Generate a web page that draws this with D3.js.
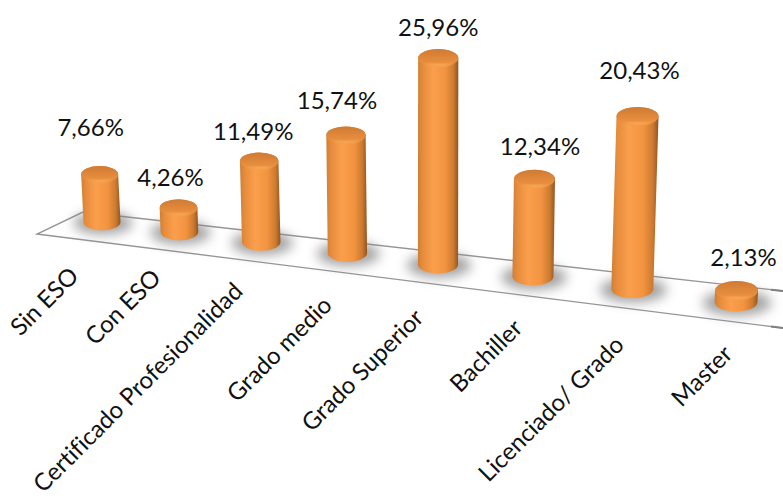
<!DOCTYPE html>
<html lang="es">
<head>
<meta charset="utf-8">
<script src="https://cdn.jsdelivr.net/npm/d3@7"></script>
<style>
  html, body { margin: 0; padding: 0; background: #fff; }
  svg { display: block; }
  text { font-family: Lato, "Open Sans", sans-serif; fill: #111; }
</style>
</head>
<body>
<svg id="chart" width="783" height="501"></svg>
<script>
// Education level shares
const categories = ["Sin ESO", "Con ESO", "Certificado Profesionalidad", "Grado medio",
                    "Grado Superior", "Bachiller", "Licenciado/ Grado", "Master"];
const shares = [7.66, 4.26, 11.49, 15.74, 25.96, 12.34, 20.43, 2.13];

// Hand placement of the value labels, relative to each cylinder's top
const labelLift = [38, 21, 21, 25, 21, 23, 36, 23];
const labelShift = [-9, -8, -6, -9, 0, 5.5, 2, 7];
// Hand placement of the slanted category labels, relative to each base
const tickDrop = [47, 39, 42, 45, 46, 44, 48, 44];
const tickShift = [-22, -17, -17, -14, -13, -9, -7, -2];

const fmt = v => v.toFixed(2).replace(".", ",") + "%";

const svg = d3.select("#chart");
const defs = svg.append("defs");

function gradient(id, x2, y2, stops) {
  const g = defs.append("linearGradient").attr("id", id)
    .attr("x1", 0).attr("y1", 0).attr("x2", x2).attr("y2", y2);
  g.selectAll("stop").data(stops).join("stop")
    .attr("offset", d => d[0]).attr("stop-color", d => d[1]);
}
gradient("body", 1, 0, [[0, "#d07f36"], [0.12, "#e68c3c"], [0.38, "#fb9f4d"], [0.68, "#f2933f"], [0.88, "#cc7a30"], [1, "#8f5522"]]);
gradient("cap", 0, 1, [[0, "#cf7b34"], [0.6, "#e38a3c"], [1, "#f09541"]]);
defs.append("filter").attr("id", "soft")
  .attr("x", "-50%").attr("y", "-100%").attr("width", "200%").attr("height", "300%")
  .append("feGaussianBlur").attr("stdDeviation", 6);
defs.append("filter").attr("id", "glint")
  .attr("x", "-10%").attr("y", "-60%").attr("width", "120%").attr("height", "220%")
  .append("feGaussianBlur").attr("stdDeviation", 0.8);

// Receding axis: category spacing widens towards the viewer
const depth = 17.17;
const x = d3.scalePow().exponent(2).domain([depth, depth + categories.length - 1]).range([102, 736]);
// Pixels per percentage point rise as the bars come closer
const gain = d3.scaleLinear().domain([102, 736]).range([7.25, 9.15]);
// Cylinder height in pixels; the value zero lies just below the floor plane
const height = (v, bx) => d3.scaleLinear().domain([0, 1]).range([-8, gain(bx) - 8])(v);
// Floor edges, expressed as functions of the horizontal position
const frontEdge = d3.scaleLinear().domain([37, 783]).range([234, 328]);
const backEdge = d3.scaleLinear().domain([83, 783]).range([212, 291]);
// Base centre line along the floor
const floorY = d3.scaleLinear().domain([102, 736]).range([222, 302]);
// Radii grow with proximity
const radius = d3.scaleLinear().domain([102, 736]).range([18.5, 21.5]);
const ryScale = d3.scaleLinear().domain([102, 736]).range([8.5, 9.5]);
// Verticals converge on a point above the middle of the floor
const lean = (bx, h) => (bx - 430) * 1.5e-4 * h;

// Floor outline, with the heavier ends where the plane leaves the frame
const floorLine = d3.line();
svg.append("path")
  .attr("d", floorLine([[783, backEdge(783)], [83, backEdge(83)], [37, frontEdge(37)], [783, frontEdge(783)]]))
  .attr("fill", "none").attr("stroke", "#969696").attr("stroke-width", 1.4);
svg.append("g").selectAll("path").data([backEdge, frontEdge]).join("path")
  .attr("d", edge => floorLine([[771, edge(771)], [783, edge(783)]]))
  .attr("fill", "none").attr("stroke", "#808080").attr("stroke-width", 2);

const rows = categories.map((name, i) => {
  const bx = x(depth + i), by = floorY(bx), h = height(shares[i], bx);
  return { name, value: shares[i], i, bx, by, h, tx: bx + lean(bx, h), ty: by - h, rx: radius(bx), ry: ryScale(bx) };
});

// Contact shadows
svg.append("g").selectAll("ellipse").data(rows).join("ellipse")
  .attr("cx", d => d.bx + 1).attr("cy", d => d.by + 1)
  .attr("rx", d => d.rx * 1.6).attr("ry", d => d.ry * 1.35)
  .attr("fill", "#808080").attr("opacity", 0.72).attr("filter", "url(#soft)");

// Cylinders: wall, cap, then the lit front rim of the cap
const bars = svg.append("g").selectAll("g").data(rows).join("g");
bars.append("path")
  .attr("d", d => `M${d.tx - d.rx},${d.ty}L${d.bx - d.rx},${d.by}` +
    `A${d.rx},${d.ry} 0 0 0 ${d.bx + d.rx},${d.by}L${d.tx + d.rx},${d.ty}` +
    `A${d.rx},${d.ry} 0 0 0 ${d.tx - d.rx},${d.ty}Z`)
  .attr("fill", "url(#body)");
bars.append("ellipse")
  .attr("cx", d => d.tx).attr("cy", d => d.ty)
  .attr("rx", d => d.rx).attr("ry", d => d.ry)
  .attr("fill", "url(#cap)");
bars.append("path")
  .attr("d", d => {
    const w = d.rx * 0.72, y0 = d.ty + d.ry * 0.62, y1 = d.ty + d.ry * 1.05;
    return `M${d.tx - w},${y0}Q${d.tx},${y1 + 1} ${d.tx + w},${y0}Q${d.tx},${y1 - 3} ${d.tx - w},${y0}Z`;
  })
  .attr("fill", "#ffb868").attr("opacity", 0.85).attr("filter", "url(#glint)");

// Value labels
svg.append("g").selectAll("text").data(rows).join("text")
  .attr("x", d => d.tx + labelShift[d.i])
  .attr("y", d => d.ty - d.ry - labelLift[d.i] + 8)
  .attr("text-anchor", "middle")
  .attr("font-size", 24)
  .text(d => fmt(d.value));

// Slanted category labels
svg.append("g").selectAll("text").data(rows).join("text")
  .attr("text-anchor", "end")
  .attr("font-size", 24)
  .style("font-variant-ligatures", "none")
  .attr("transform", d => `translate(${d.bx + tickShift[d.i]},${d.by + d.ry + tickDrop[d.i]}) rotate(-45)`)
  .text(d => d.name);
</script>
</body>
</html>
